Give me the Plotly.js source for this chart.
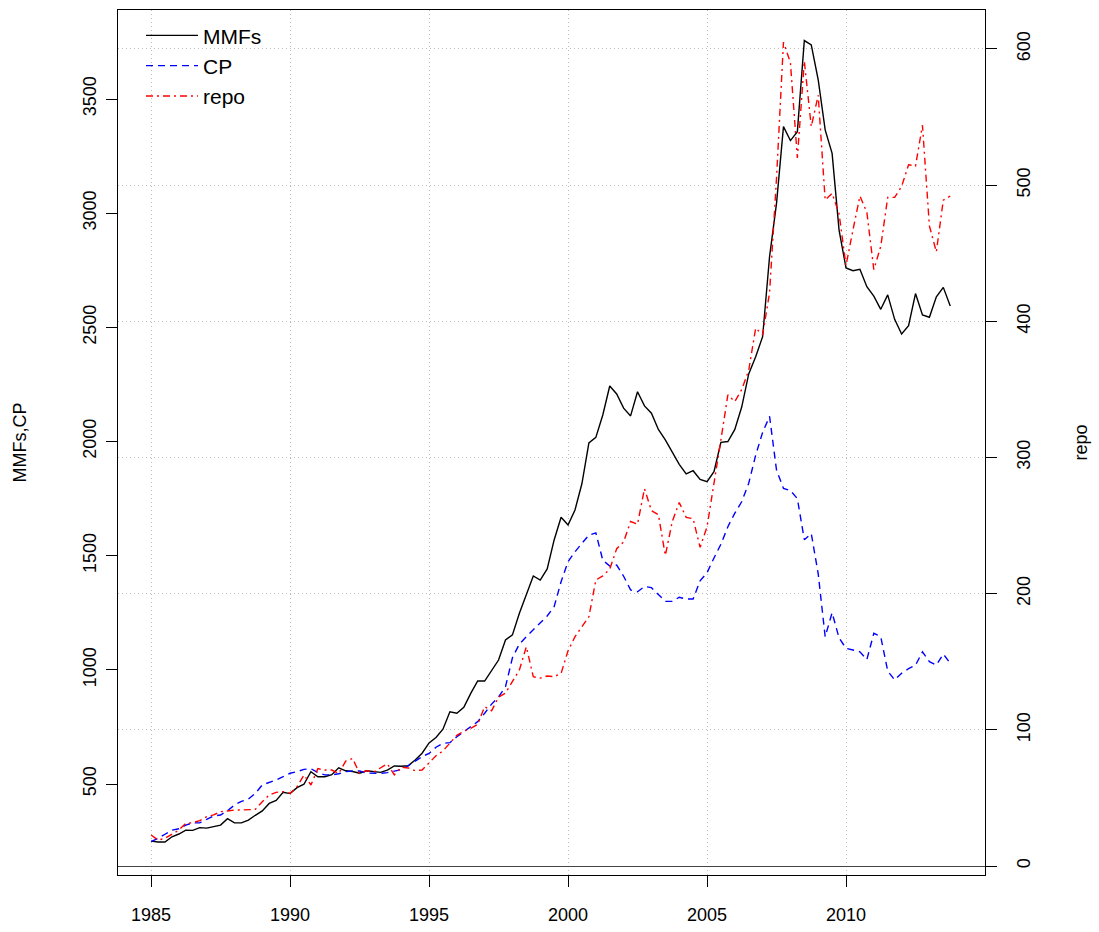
<!DOCTYPE html>
<html>
<head>
<meta charset="utf-8">
<script src="https://cdn.plot.ly/plotly-3.0.1.min.js"></script>
<style>html,body{margin:0;padding:0;background:#fff;}#chart{width:1099px;height:932px;}</style>
</head>
<body>
<div id="chart"></div>
<script>
// Quarterly series, 1985 Q1 .. 2013 Q4
const startYear = 1985;
const quartersPerYear = 4;

const mmfs = [250,246,246,269,281,298,297,309,307,312,
  320,348,330,330,342,363,382,415,428,464,
  458,484,499,554,532,532,541,571,558,555,
  547,558,554,551,561,579,578,580,605,635,
  680,704,740,816,810,836,897,951,951,999,
  1043,1131,1153,1248,1328,1411,1393,1442,1569,1668,
  1634,1700,1816,1994,2018,2116,2243,2208,2146,2112,
  2218,2156,2124,2053,2007,1955,1900,1858,1872,1834,
  1824,1868,1996,2000,2053,2152,2296,2371,2459,2810,
  3043,3379,3318,3357,3756,3737,3584,3365,3262,2926,
  2760,2748,2754,2678,2637,2579,2642,2535,2471,2507,
  2648,2554,2544,2634,2675,2593];

const cp = [248,262,280,298,304,320,330,330,345,360,
  364,383,408,424,434,459,496,506,518,532,
  547,554,564,567,550,540,540,545,554,557,
  557,548,547,547,550,558,563,580,600,620,
  634,661,678,681,707,729,747,773,810,850,
  882,926,1053,1113,1145,1174,1204,1236,1277,1386,
  1474,1517,1554,1590,1600,1480,1455,1459,1410,1350,
  1342,1365,1360,1330,1300,1300,1318,1310,1310,1390,
  1425,1490,1550,1627,1686,1737,1817,1940,2040,2110,
  1875,1795,1785,1750,1570,1597,1420,1145,1250,1140,
  1094,1087,1079,1045,1160,1145,995,956,985,1005,
  1020,1079,1036,1021,1069,1029];

const repo = [22.8,19.1,20.3,23.3,26.4,31.4,31.8,33.3,36.2,37.5,
  39.9,40.4,41.1,41.1,41.1,41.6,47.2,52.1,54.1,54.6,
  53.4,58.2,66.8,59.5,71.5,70.5,70.5,68,77,79,
  68,70,69,72,75,67,72.5,72,70,70.5,
  76,81,84.5,90,96,99,101,104,117,114,
  124,127,135,144,161,139,138,139.5,139,141.5,
  158,168.4,175.7,183,210,213,218,233,238,253,
  251,277,261,258,228,253,267,256,255,234,
  249,280,313,346,341,350,364,395,390,421,
  505,605,590,520,591,543,566,489,494,479,
  441,467,492,480,438,455,491,491,499,515,
  514,544,470,451,489,492];

const xTicks = [1985,1990,1995,2000,2005,2010];
const leftTicks = [500,1000,1500,2000,2500,3000,3500];
const rightTicks = [0,100,200,300,400,500,600];
const seriesNames = ['MMFs','CP','repo'];

const time = mmfs.map((_, i) => startYear + i / quartersPerYear);

const FONT = 'Liberation Sans, Arial, Helvetica, sans-serif';
const GRID = '#bdbdbd';
const GRIDDASH = '1px,3px';

const traces = [
  {x: time, y: mmfs, name: seriesNames[0], type: 'scatter', mode: 'lines',
   line: {color: '#000000', width: 1.4}, xaxis: 'x', yaxis: 'y'},
  {x: time, y: cp, name: seriesNames[1], type: 'scatter', mode: 'lines',
   line: {color: '#0000ff', width: 1.4, dash: '7px,5px'}, xaxis: 'x', yaxis: 'y'},
  {x: time, y: repo, name: seriesNames[2], type: 'scatter', mode: 'lines',
   line: {color: '#ff0000', width: 1.4, dash: '7px,4px,2px,4px'}, xaxis: 'x', yaxis: 'y2'}
];

const layout = {
  width: 1099, height: 932,
  margin: {l: 118, r: 114, t: 10, b: 57},
  paper_bgcolor: '#ffffff', plot_bgcolor: '#ffffff',
  font: {family: FONT, size: 18, color: '#000'},
  showlegend: true,
  legend: {x: 0.0265, y: 0.994, xanchor: 'left', yanchor: 'top', itemwidth: 52,
    bgcolor: 'rgba(0,0,0,0)', font: {size: 21, family: FONT}, tracegroupgap: 0},
  xaxis: {range: [1983.81, 2015.0], tickvals: xTicks, ticktext: xTicks.map(String),
    ticks: 'outside', ticklen: 11, tickcolor: '#000', showline: true, linecolor: '#000',
    linewidth: 1, mirror: true, showgrid: true, gridcolor: GRID, griddash: GRIDDASH,
    gridwidth: 1, zeroline: false, tickfont: {size: 18}, ticklabelstandoff: 12},
  yaxis: {range: [101.5, 3889.8], tickvals: leftTicks, ticktext: leftTicks.map(String),
    ticks: 'outside', ticklen: 11, tickcolor: '#000', showline: true, linecolor: '#000',
    linewidth: 1, showgrid: false, zeroline: false, tickangle: -90, tickfont: {size: 18},
    ticklabelstandoff: 3,
    title: {text: 'MMFs,CP', font: {size: 18}, standoff: 48}},
  yaxis2: {range: [-6.6, 628.6], tickvals: rightTicks, ticktext: rightTicks.map(String),
    overlaying: 'y', side: 'right', ticks: 'outside', ticklen: 11, tickcolor: '#000',
    showline: true, linecolor: '#000', linewidth: 1, showgrid: true, gridcolor: GRID,
    griddash: GRIDDASH, gridwidth: 1, zeroline: true, zerolinecolor: '#444', zerolinewidth: 1,
    tickangle: -90, tickfont: {size: 18}, ticklabelstandoff: 11,
    title: {text: 'repo', font: {size: 18}, standoff: 41}}
};

Plotly.newPlot('chart', traces, layout, {staticPlot: true, displayModeBar: false});
</script>
</body>
</html>
